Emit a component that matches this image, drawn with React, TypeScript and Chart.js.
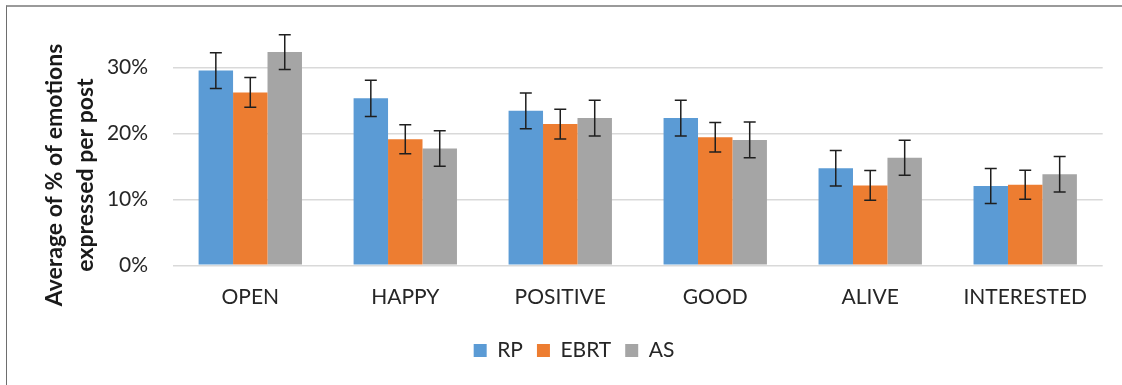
import React, { useEffect, useRef } from 'react';
import { Chart, registerables } from 'chart.js';

Chart.register(...registerables);

const categories = ['OPEN', 'HAPPY', 'POSITIVE', 'GOOD', 'ALIVE', 'INTERESTED'];
const seriesNames = ['RP', 'EBRT', 'AS'];
const seriesColors = ['#5B9BD5', '#ED7D31', '#A5A5A5'];
const rpValues = [29.5, 25.3, 23.4, 22.3, 14.7, 12.0];
const rpErrors = [2.7, 2.75, 2.7, 2.7, 2.7, 2.65];
const ebrtValues = [26.2, 19.1, 21.4, 19.4, 12.1, 12.2];
const ebrtErrors = [2.25, 2.2, 2.25, 2.25, 2.25, 2.2];
const asValues = [32.3, 17.7, 22.3, 19.0, 16.3, 13.8];
const asErrors = [2.65, 2.7, 2.7, 2.7, 2.65, 2.7];
const yTicks = [0, 10, 20, 30];
const yMax = 35;
const yTitle = ['Average of % of emotions', 'expressed per post'];

const FONT = 'Lato';

const errorBarPlugin = {
  id: 'errorBars',
  afterDatasetsDraw(chart: any) {
    const ctx = chart.ctx;
    const yScale = chart.scales.y;
    ctx.save();
    ctx.strokeStyle = '#1f1f1f';
    ctx.lineWidth = 1.5;
    chart.data.datasets.forEach((ds: any, i: number) => {
      const meta = chart.getDatasetMeta(i);
      meta.data.forEach((el: any, j: number) => {
        const v = ds.data[j];
        const e = ds.errors[j];
        const x = el.x;
        const yt = yScale.getPixelForValue(v + e);
        const yb = yScale.getPixelForValue(v - e);
        const cap = 6;
        ctx.beginPath();
        ctx.moveTo(x, yt);
        ctx.lineTo(x, yb);
        ctx.moveTo(x - cap, yt);
        ctx.lineTo(x + cap, yt);
        ctx.moveTo(x - cap, yb);
        ctx.lineTo(x + cap, yb);
        ctx.stroke();
      });
    });
    ctx.restore();
  },
};

export default function App() {
  const ref = useRef<HTMLCanvasElement | null>(null);

  useEffect(() => {
    if (!ref.current) return;
    const values = [rpValues, ebrtValues, asValues];
    const errors = [rpErrors, ebrtErrors, asErrors];
    const chart = new Chart(ref.current, {
      type: 'bar',
      data: {
        labels: categories,
        datasets: seriesNames.map((name, i) => ({
          label: name,
          data: values[i],
          errors: errors[i],
          backgroundColor: seriesColors[i],
          borderWidth: 0,
          categoryPercentage: 0.667,
          barPercentage: 1.0,
        })) as any,
      },
      options: {
        animation: false,
        responsive: true,
        maintainAspectRatio: false,
        layout: { padding: 0 },
        plugins: {
          tooltip: { enabled: false },
          title: {
            display: true,
            position: 'left',
            fullSize: true,
            text: yTitle,
            color: '#1a1a1a',
            font: { family: FONT, size: 23, weight: 'bold', lineHeight: 1.35 },
            padding: { top: 39.5, bottom: 0 },
          },
          legend: {
            position: 'bottom',
            labels: {
              boxWidth: 13,
              boxHeight: 13,
              padding: 14,
              color: '#262626',
              font: { family: FONT, size: 21 },
            },
          },
        },
        scales: {
          x: {
            grid: { display: false, drawTicks: false },
            border: { display: false },
            ticks: { color: '#262626', font: { family: FONT, size: 21 }, padding: 19 },
            afterFit: (s: any) => { s.height = 60.7; },
          },
          xTop: {
            type: 'category',
            position: 'top',
            grid: { display: false, drawTicks: false },
            border: { display: false },
            ticks: { display: false },
            afterFit: (s: any) => { s.height = 55.3; },
          },
          y: {
            min: 0,
            max: yMax,
            grid: { color: '#D9D9D9', lineWidth: 1.5, drawTicks: false },
            border: { display: false },
            afterBuildTicks: (axis: any) => { axis.ticks = yTicks.map((v) => ({ value: v })); },
            ticks: {
              color: '#262626',
              font: { family: FONT, size: 21 },
              padding: 24.7,
              callback: (v: any) => v + '%',
            },
            afterFit: (s: any) => { s.width = 71.2; },
          },
          yRight: {
            type: 'linear',
            position: 'right',
            grid: { display: false, drawTicks: false },
            border: { display: false },
            ticks: { display: false },
            afterFit: (s: any) => { s.width = 45.3; },
          },
        },
      } as any,
      plugins: [errorBarPlugin],
    });
    return () => chart.destroy();
  }, []);

  return (
    <div style={{ position: 'fixed', left: 0, top: 0, width: 1122, height: 385, overflow: 'hidden', background: '#fff' }}>
      <div style={{ position: 'absolute', left: 0, top: -21, width: 1148, height: 392 }}>
        <canvas ref={ref} />
      </div>
      <div
        style={{
          position: 'absolute',
          left: 6,
          top: 5,
          width: 2000,
          height: 2000,
          borderTop: '2px solid #9a9a9a',
          borderLeft: '1px solid #6e6e6e',
          pointerEvents: 'none',
        }}
      />
    </div>
  );
}
